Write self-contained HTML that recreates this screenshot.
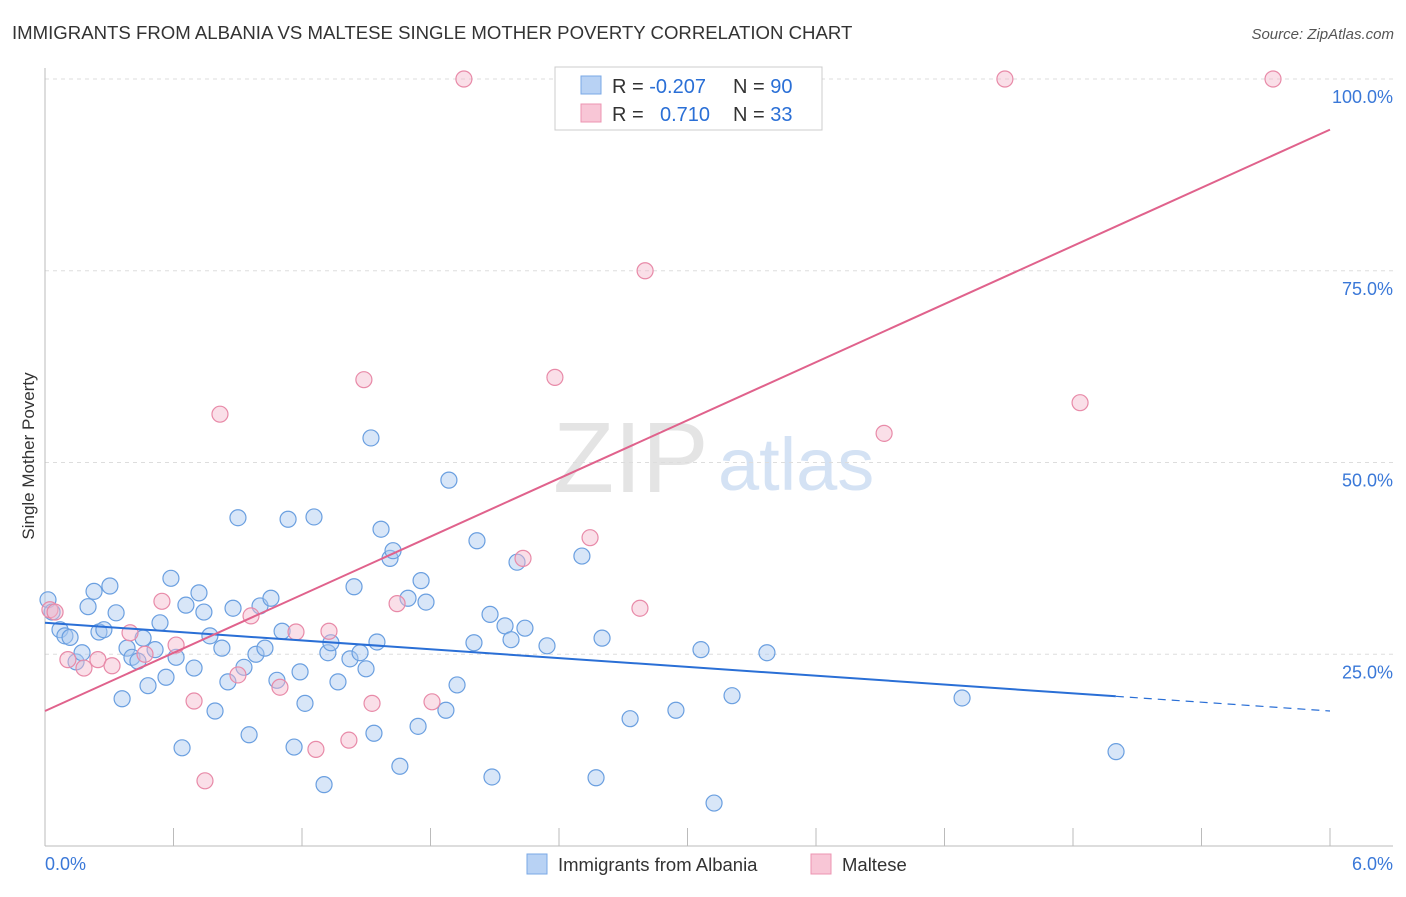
<!DOCTYPE html>
<html><head><meta charset="utf-8"><style>
body{margin:0;background:#fff;font-family:"Liberation Sans",sans-serif;}
svg text{font-family:"Liberation Sans",sans-serif;}
</style></head><body>
<svg id="chart" width="1406" height="892" xmlns="http://www.w3.org/2000/svg">
<text x="12" y="39" font-size="18.6" fill="#333">IMMIGRANTS FROM ALBANIA VS MALTESE SINGLE MOTHER POVERTY CORRELATION CHART</text>
<text x="1394" y="39" font-size="15" fill="#555" text-anchor="end" font-style="italic">Source: ZipAtlas.com</text>
<text x="553" y="492" font-size="100" fill="#e4e4e4" font-family="Liberation Serif">ZIP</text>
<text x="718" y="490" font-size="74" fill="#d4e2f4">atlas</text>
<text transform="translate(34,456) rotate(-90)" font-size="17" fill="#333" text-anchor="middle">Single Mother Poverty</text>
<g id="grid"></g><g id="axes"></g><g id="marks"></g>
<g>
<rect x="555" y="67" width="267" height="63" fill="#fff" stroke="#ccc"/>
<rect x="581" y="76" width="20" height="18" fill="#b8d2f4" stroke="#7aa8e6"/>
<rect x="581" y="104" width="20" height="18" fill="#f8c6d6" stroke="#ec94b2"/>
<text x="612" y="93" font-size="20" fill="#333">R = <tspan fill="#2a6fd6">-0.207</tspan></text>
<text x="733" y="93" font-size="20" fill="#333">N = <tspan fill="#2a6fd6">90</tspan></text>
<text x="612" y="121" font-size="20" fill="#333">R = <tspan fill="#2a6fd6" x="660">0.710</tspan></text>
<text x="733" y="121" font-size="20" fill="#333">N = <tspan fill="#2a6fd6">33</tspan></text>
</g>
<g>
<rect x="527" y="854" width="20" height="20" fill="#b8d2f4" stroke="#7aa8e6"/>
<text x="558" y="871" font-size="18.5" fill="#333">Immigrants from Albania</text>
<rect x="811" y="854" width="20" height="20" fill="#f8c6d6" stroke="#ec94b2"/>
<text x="842" y="871" font-size="18.5" fill="#333">Maltese</text>
</g>
</svg>
<script>
const blueX=[0.014,0.033,0.070,0.093,0.117,0.145,0.173,0.201,0.229,0.252,0.275,0.303,0.332,0.360,0.383,0.406,0.434,0.458,0.481,0.514,0.537,0.565,0.588,0.612,0.640,0.658,0.696,0.719,0.742,0.770,0.794,0.826,0.854,0.878,0.901,0.929,0.953,0.985,1.004,1.027,1.055,1.083,1.107,1.135,1.163,1.191,1.214,1.256,1.303,1.321,1.335,1.368,1.424,1.443,1.471,1.499,1.522,1.536,1.550,1.569,1.611,1.625,1.657,1.695,1.742,1.756,1.779,1.872,1.886,1.924,2.003,2.017,2.078,2.087,2.148,2.176,2.204,2.241,2.344,2.507,2.573,2.601,2.732,2.946,3.063,3.124,3.208,3.371,4.282,5.001];
const blueY=[32.1,30.5,28.2,27.4,27.2,24.0,25.2,31.2,33.2,27.9,28.2,33.9,30.4,19.2,25.8,24.6,24.1,27.1,20.9,25.6,29.1,22.0,34.9,24.6,12.8,31.4,23.2,33.0,30.5,27.4,17.6,25.8,21.4,31.0,42.8,23.3,14.5,25.0,31.3,25.8,32.3,21.6,28.0,42.6,12.9,22.7,18.6,42.9,8.0,25.2,26.5,21.4,24.4,33.8,25.2,23.1,53.2,14.7,26.6,41.3,37.5,38.5,10.4,32.3,15.6,34.6,31.8,17.7,47.7,21.0,26.5,39.8,30.2,9.0,28.7,26.9,37.0,28.4,26.1,37.8,8.9,27.1,16.6,17.7,25.6,5.6,19.6,25.2,19.3,12.3];
const pinkX=[0.023,0.047,0.107,0.182,0.247,0.313,0.397,0.467,0.546,0.612,0.696,0.747,0.817,0.901,0.962,1.097,1.172,1.265,1.326,1.419,1.489,1.527,1.644,1.807,1.956,2.232,2.381,2.545,2.778,2.802,3.918,4.482,4.833,5.734];
const pinkY=[30.8,30.5,24.3,23.2,24.3,23.5,27.8,25.0,31.9,26.2,18.9,8.5,56.3,22.3,30.0,20.7,27.9,12.6,28.0,13.8,60.8,18.6,31.6,18.8,100,37.5,61.1,40.2,31.0,75.0,53.8,100,57.8,100];
const blueTrend=[29.1,17.6];
const pinkTrend=[17.6,93.4];
const blueSolidEnd=5.0;
const yTicks=[25,50,75,100];
const yTickLabels=["25.0%","50.0%","75.0%","100.0%"];
const xTicks=[0,0.6,1.2,1.8,2.4,3.0,3.6,4.2,4.8,5.4,6.0];
const NS="http://www.w3.org/2000/svg";
const X0=45,X1=1330,Y0=846,Y100=79;
const sx=v=>X0+(X1-X0)*v/6;
const sy=v=>Y0-(Y0-Y100)*v/100;
function mk(tag,attrs,parent){const e=document.createElementNS(NS,tag);for(const k in attrs)e.setAttribute(k,attrs[k]);document.getElementById(parent).appendChild(e);return e;}
yTicks.forEach((t,i)=>{
 const g=mk('line',{x1:X0,x2:1393,y1:sy(t),y2:sy(t),stroke:'#ddd','stroke-dasharray':'4,4'},'grid');
 
 
 const l=mk('text',{x:1393,y:sy(t)+24,'font-size':18,fill:'#3a78d8','text-anchor':'end'},'axes');
 l.textContent=yTickLabels[i];
 
 
});
const a1=mk('line',{x1:X0,x2:X0,y1:68,y2:Y0,stroke:'#bbb'},'axes');


const a2=mk('line',{x1:X0,x2:1393,y1:Y0,y2:Y0,stroke:'#bbb'},'axes');


xTicks.forEach(t=>{
 const tk=mk('line',{x1:sx(t),x2:sx(t),y1:Y0,y2:Y0-18,stroke:'#bbb'},'axes');
 
 
});
const xl0=mk('text',{x:45,y:870,'font-size':18,fill:'#3a78d8'},'axes');xl0.textContent='0.0%';


const xl1=mk('text',{x:1393,y:870,'font-size':18,fill:'#3a78d8','text-anchor':'end'},'axes');xl1.textContent='6.0%';


blueX.forEach((x,i)=>{
 const c=mk('circle',{cx:sx(x),cy:sy(blueY[i]),r:8,fill:'rgba(168,200,240,0.45)',stroke:'#6a9fe0','stroke-width':1.2},'marks');
 
 
});
pinkX.forEach((x,i)=>{
 const c=mk('circle',{cx:sx(x),cy:sy(pinkY[i]),r:8,fill:'rgba(245,184,204,0.45)',stroke:'#e88aa8','stroke-width':1.2},'marks');
 
 
});
const by=x=>blueTrend[0]+(blueTrend[1]-blueTrend[0])*x/6;
const bl=mk('line',{x1:sx(0),y1:sy(by(0)),x2:sx(blueSolidEnd),y2:sy(by(blueSolidEnd)),stroke:'#2a6fd6','stroke-width':2},'marks');


const bd=mk('line',{x1:sx(blueSolidEnd),y1:sy(by(blueSolidEnd)),x2:sx(6),y2:sy(by(6)),stroke:'#2a6fd6','stroke-width':1.2,'stroke-dasharray':'8,6'},'marks');


const pl=mk('line',{x1:sx(0),y1:sy(pinkTrend[0]),x2:sx(6),y2:sy(pinkTrend[1]),stroke:'#e0628c','stroke-width':2},'marks');


</script>
</body></html>
